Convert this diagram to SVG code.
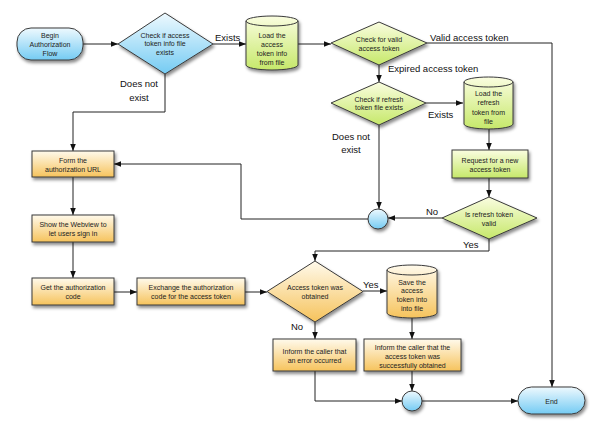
<svg xmlns="http://www.w3.org/2000/svg" width="600" height="432" viewBox="0 0 600 432">
<defs>
<linearGradient id="gBlue" x1="0" y1="0" x2="0" y2="1"><stop offset="0" stop-color="#eef9fe"/><stop offset="1" stop-color="#74cbf3"/></linearGradient>
<linearGradient id="gGreen" x1="0" y1="0" x2="0" y2="1"><stop offset="0" stop-color="#fafde0"/><stop offset="1" stop-color="#c6e86a"/></linearGradient>
<linearGradient id="gOrange" x1="0" y1="0" x2="0" y2="1"><stop offset="0" stop-color="#fffaec"/><stop offset="1" stop-color="#f6c35c"/></linearGradient>
<filter id="sh" x="-20%" y="-20%" width="150%" height="160%"><feDropShadow dx="1.5" dy="2.5" stdDeviation="1.8" flood-color="#000" flood-opacity="0.45"/></filter>
<marker id="arr" viewBox="0 0 10 10" refX="10" refY="5" markerWidth="7" markerHeight="7" markerUnits="userSpaceOnUse" orient="auto"><path d="M0,1 L10,5 L0,9 z" fill="#111"/></marker>
</defs>
<style>
.n{stroke:#3a3a3a;stroke-width:1;filter:url(#sh)}
.b{fill:url(#gBlue)}
.g{fill:url(#gGreen)}
.o{fill:url(#gOrange)}
.t{font-family:"Liberation Sans",Arial,sans-serif;font-size:7px;fill:#222;text-anchor:middle}
.c{fill:none;stroke:#222;stroke-width:1}
.ca{fill:none;stroke:#222;stroke-width:1;marker-end:url(#arr)}
.l{font-family:"Liberation Sans",Arial,sans-serif;font-size:9.5px;fill:#111}
.lm{text-anchor:middle}
</style>
<rect width="600" height="432" fill="#fff"/>

<g id="connectors">
<path class="ca" d="M83,44 H118"/>
<path class="ca" d="M213,44 H246"/>
<path class="ca" d="M298,44 H331"/>
<path class="ca" d="M427,43 H552 V387"/>
<path class="ca" d="M379,65 V82"/>
<path class="ca" d="M426,103 H463"/>
<path class="ca" d="M489,129 V150"/>
<path class="ca" d="M379,125 V209"/>
<path class="ca" d="M489,178 V197"/>
<path class="ca" d="M442,218 H388"/>
<path class="ca" d="M368,219 H241 V164 H114"/>
<path class="ca" d="M489,239 V251 H315 V261"/>
<path class="ca" d="M165,74 V112 H73 V151"/>
<path class="ca" d="M73,177 V215"/>
<path class="ca" d="M73,242 V278"/>
<path class="ca" d="M114,292 H137"/>
<path class="ca" d="M245,292 H267"/>
<path class="ca" d="M363,291 H387"/>
<path class="ca" d="M315,322 V339"/>
<path class="ca" d="M412,318 V339"/>
<path class="ca" d="M315,371 V401 H402"/>
<path class="ca" d="M412,371 V391"/>
<path class="ca" d="M422,401 H518"/>
<text class="l" x="215" y="40.5">Exists</text>
<text class="l lm" x="139" y="86.5">Does not</text>
<text class="l lm" x="139" y="100.5">exist</text>
<text class="l" x="430" y="40.5">Valid access token</text>
<text class="l" x="388" y="71.5">Expired access token</text>
<text class="l" x="428" y="117.5">Exists</text>
<text class="l lm" x="351" y="139.5">Does not</text>
<text class="l lm" x="351" y="153">exist</text>
<text class="l" x="426" y="214.5">No</text>
<text class="l" x="463" y="247.5">Yes</text>
<text class="l" x="363" y="287.5">Yes</text>
<text class="l" x="291" y="329.5">No</text>
</g>

<g id="begin">
<rect class="n b" x="17" y="28" width="66" height="32" rx="14"/>
<text class="t" x="50" y="37.5">Begin</text>
<text class="t" x="50" y="46.5">Authorization</text>
<text class="t" x="50" y="55.5">Flow</text>
</g>
<g id="check-access-file">
<polygon class="n b" points="165,13 213,44 165,74 118,44"/>
<text class="t" x="165" y="37.5">Check if access</text>
<text class="t" x="165" y="46">token info file</text>
<text class="t" x="165" y="54.5">exists</text>
</g>
<g id="load-access">
<path class="n g" d="M246,21 A26,5 0 0 1 298,21 V65 A26,5 0 0 1 246,65 Z"/>
<path d="M246,21 A26,5 0 0 0 298,21" fill="none" stroke="#3a3a3a" stroke-width="1"/>
<text class="t" x="272" y="37.5">Load the</text>
<text class="t" x="272" y="46.5">access</text>
<text class="t" x="272" y="55.5">token info</text>
<text class="t" x="272" y="64.5">from file</text>
</g>
<g id="check-valid">
<polygon class="n g" points="379,22 427,43 379,65 331,43"/>
<text class="t" x="379" y="41.5">Check for valid</text>
<text class="t" x="379" y="50.5">access token</text>
</g>
<g id="check-refresh-file">
<polygon class="n g" points="379,82 426,103 379,125 331,103"/>
<text class="t" x="379" y="101.5">Check if refresh</text>
<text class="t" x="379" y="110">token file exists</text>
</g>
<g id="load-refresh">
<path class="n g" d="M464,82 A24.5,5 0 0 1 513,82 V124 A24.5,5 0 0 1 464,124 Z"/>
<path d="M464,82 A24.5,5 0 0 0 513,82" fill="none" stroke="#3a3a3a" stroke-width="1"/>
<text class="t" x="488.5" y="95.5">Load the</text>
<text class="t" x="488.5" y="105">refresh</text>
<text class="t" x="488.5" y="114.5">token from</text>
<text class="t" x="488.5" y="123.5">file</text>
</g>
<g id="request-new">
<rect class="n g" x="452" y="150" width="76" height="28"/>
<text class="t" x="490" y="162.5">Request for a new</text>
<text class="t" x="490" y="171.5">access token</text>
</g>
<g id="refresh-valid">
<polygon class="n g" points="489,197 537,218 489,239 442,218"/>
<text class="t" x="489" y="216.5">Is refresh token</text>
<text class="t" x="489" y="225.5">valid</text>
</g>
<g id="merge1">
<circle class="n b" cx="378" cy="219" r="10"/>
</g>
<g id="form-url">
<rect class="n o" x="32" y="151" width="82" height="26"/>
<text class="t" x="73" y="162.5">Form the</text>
<text class="t" x="73" y="171.5">authorization URL</text>
</g>
<g id="show-webview">
<rect class="n o" x="32" y="215" width="82" height="27"/>
<text class="t" x="73" y="226.5">Show the Webview to</text>
<text class="t" x="73" y="235.5">let users sign in</text>
</g>
<g id="get-code">
<rect class="n o" x="32" y="278" width="82" height="27"/>
<text class="t" x="73" y="289.5">Get the authorization</text>
<text class="t" x="73" y="298.5">code</text>
</g>
<g id="exchange-code">
<rect class="n o" x="137" y="278" width="108" height="27"/>
<text class="t" x="191" y="289.5">Exchange the authorization</text>
<text class="t" x="191" y="298.5">code for the access token</text>
</g>
<g id="token-obtained">
<polygon class="n o" points="315,261 363,291.5 315,322 267,291.5"/>
<text class="t" x="315" y="289.5">Access token was</text>
<text class="t" x="315" y="298.5">obtained</text>
</g>
<g id="save-token">
<path class="n o" d="M387,270 A25,5 0 0 1 437,270 V313 A25,5 0 0 1 387,313 Z"/>
<path d="M387,270 A25,5 0 0 0 437,270" fill="none" stroke="#3a3a3a" stroke-width="1"/>
<text class="t" x="412" y="284.5">Save the</text>
<text class="t" x="412" y="293">access</text>
<text class="t" x="412" y="302">token into</text>
<text class="t" x="412" y="311">into file</text>
</g>
<g id="inform-error">
<rect class="n o" x="273" y="339" width="83" height="32"/>
<text class="t" x="314.5" y="353.5">Inform the caller that</text>
<text class="t" x="314.5" y="362.5">an error occurred</text>
</g>
<g id="inform-success">
<rect class="n o" x="364" y="339" width="97" height="32"/>
<text class="t" x="412.5" y="349.5">Inform the caller that the</text>
<text class="t" x="412.5" y="358.5">access token was</text>
<text class="t" x="412.5" y="367.5">successfully obtained</text>
</g>
<g id="merge2">
<circle class="n b" cx="412" cy="401" r="10"/>
</g>
<g id="end">
<rect class="n b" x="518" y="387" width="67" height="27" rx="13.5"/>
<text class="t" x="551.5" y="403.5">End</text>
</g>
</svg>
